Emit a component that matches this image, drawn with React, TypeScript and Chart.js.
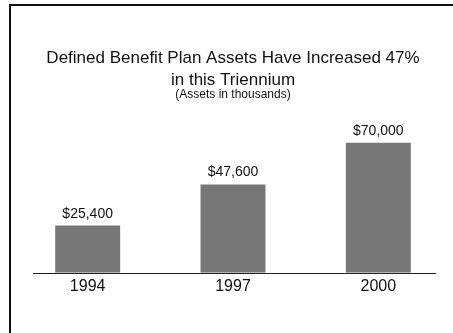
import { useEffect, useRef } from 'react';
import { Chart, registerables } from 'chart.js';

Chart.register(...registerables);

const years = ['1994', '1997', '2000'];
const assets = [25400, 47600, 70000];
const titleLines = ['Defined Benefit Plan Assets Have Increased 47%', 'in this Triennium'];
const subtitleText = '(Assets in thousands)';
const yMin = 0;
const yMax = 80000;

const FONT = '"Liberation Sans", Arial, Helvetica, sans-serif';

const valueLabels = {
  id: 'valueLabels',
  afterDatasetsDraw(chart: any) {
    const ctx = chart.ctx;
    const meta = chart.getDatasetMeta(0);
    const data = chart.data.datasets[0].data as number[];
    ctx.save();
    ctx.font = `14px ${FONT}`;
    ctx.fillStyle = '#111';
    ctx.textAlign = 'center';
    ctx.textBaseline = 'alphabetic';
    meta.data.forEach((bar: any, i: number) => {
      ctx.fillText('$' + data[i].toLocaleString('en-US'), bar.x, bar.y - 8);
    });
    const y0 = Math.round(chart.scales.y.getPixelForValue(0));
    const { left, right } = chart.chartArea;
    ctx.strokeStyle = '#222';
    ctx.lineWidth = 1;
    ctx.beginPath();
    ctx.moveTo(left + 18, y0 + 0.5);
    ctx.lineTo(right - 15, y0 + 0.5);
    ctx.stroke();
    ctx.restore();
  },
};

export default function App() {
  const ref = useRef<HTMLCanvasElement | null>(null);

  useEffect(() => {
    if (!ref.current) return;
    const chart = new Chart(ref.current, {
      type: 'bar',
      data: {
        labels: years,
        datasets: [
          {
            data: assets,
            backgroundColor: '#777777',
            borderWidth: 0,
            barPercentage: 0.447,
            categoryPercentage: 1,
          },
        ],
      },
      options: {
        responsive: false,
        animation: false,
        devicePixelRatio: 1,
        layout: { padding: { left: 15, right: 2, top: 0, bottom: 33 } },
        plugins: {
          legend: { display: false },
          tooltip: { enabled: false },
          title: {
            display: true,
            text: titleLines,
            color: '#111',
            font: { family: FONT, size: 17, weight: 'normal', lineHeight: '22px' },
            padding: { top: 47.5, bottom: 0 },
          },
          subtitle: {
            display: true,
            text: subtitleText,
            color: '#111',
            font: { family: FONT, size: 12, weight: 'normal', lineHeight: '6px' },
            padding: { top: 0, bottom: 26.7 },
          },
        },
        scales: {
          x: {
            grid: { display: false, drawTicks: false },
            border: { display: false },
            ticks: {
              color: '#111',
              font: { family: FONT, size: 16 },
              padding: 4,
            },
          },
          y: {
            display: false,
            min: yMin,
            max: yMax,
          },
        },
      },
      plugins: [valueLabels],
    });
    return () => chart.destroy();
  }, []);

  return (
    <div
      style={{
        position: 'fixed',
        left: 0,
        top: 0,
        width: 453,
        height: 333,
        overflow: 'hidden',
        background: '#fff',
      }}
    >
      <div
        style={{
          position: 'absolute',
          left: 9,
          top: 4,
          width: 480,
          height: 360,
          borderLeft: '2px solid #111',
          borderTop: '2px solid #111',
        }}
      />
      <canvas
        ref={ref}
        width={453}
        height={333}
        style={{ position: 'absolute', left: 0, top: 0, width: 453, height: 333 }}
      />
    </div>
  );
}
